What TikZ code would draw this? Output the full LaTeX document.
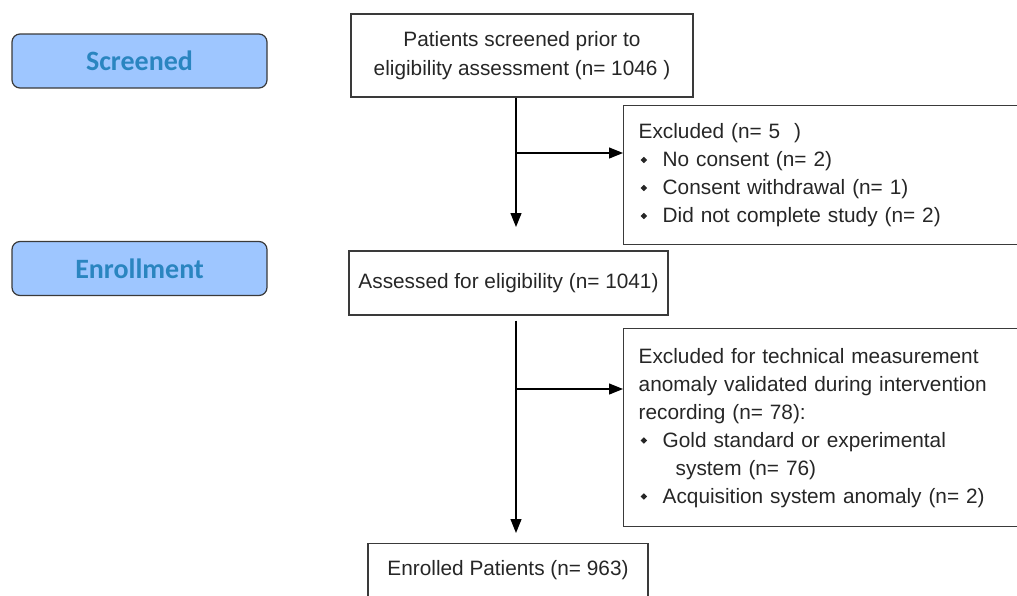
\documentclass[tikz,border=0pt]{standalone}
\usepackage{fontspec}
\setmainfont{Liberation Sans}
\newfontfamily\stagefont{Carlito}
\usetikzlibrary{arrows.meta,calc}
\definecolor{stagefill}{HTML}{9EC6FF}
\definecolor{stagetext}{HTML}{2A85C0}
\definecolor{boxline}{HTML}{3A3A3A}
\newcommand\dmd{\tikz[baseline=-0.6ex]\fill (0,1.6pt)--(1.6pt,0)--(0,-1.6pt)--(-1.6pt,0)--cycle;}
\newcommand\itm{\makebox[12pt][l]{\hspace*{1pt}\dmd}}

\begin{document}
\begin{tikzpicture}[x=0.5pt,y=-0.5pt,>={Triangle[length=7pt,width=5.5pt]},
    every node/.style={font=\fontsize{10.4}{14}\selectfont,text=black!85},
    stage/.style={draw=boxline,fill=stagefill,rounded corners=4pt,line width=0.6pt,
      minimum width=127.5pt,minimum height=27pt,text=stagetext,
      font=\stagefont\bfseries\fontsize{14}{16}\selectfont},
    box/.style={draw=boxline,line width=0.7pt,inner ysep=0pt},
    sidebox/.style={box,anchor=north west,inner xsep=7.5pt,text width=196pt,align=left},
    arr/.style={->,line width=0.6pt}]
            \useasboundingbox (0,0) rectangle (1017,595);
            \clip (0,0) rectangle (1017,595);
            % stage labels
            \node[stage] (screened) at (139.5,61) {Screened};
            \node[stage] (enrollment) at (139.5,268.5) {Enrollment};
            % main column
            \node[box,minimum width=171pt,minimum height=41.5pt,align=center,
              font=\fontsize{10.4}{14.5}\selectfont] (screen) at (522,55.5)
              {Patients screened prior to\\eligibility assessment (n=~1046~)};
            \node[box,minimum width=159.5pt,minimum height=32pt] (assess) at (508.5,283)
              {Assessed for eligibility (n=~1041)};
            \node[box,anchor=north,minimum width=140pt,minimum height=30pt,
              text height=8pt,text depth=6pt] (enrolled) at (508,543)
              {Enrolled Patients (n=~963)};
            % exclusions
            \node[sidebox,minimum height=69.5pt] (excl1) at (623,105)
              {Excluded (n=~5~~)\\
               \itm No consent (n=~2)\\
               \itm Consent withdrawal (n=~1)\\
               \itm Did not complete study (n=~2)};
            \node[sidebox,minimum height=99pt] (excl2) at (623,328)
              {Excluded for technical measurement\\
               anomaly validated during intervention\\
               recording (n=~78):\\
               \itm Gold standard or experimental\\
               \hspace*{18.5pt}system (n=~76)\\
               \itm Acquisition system anomaly (n=~2)};
            % connectors
            \coordinate (j1) at (516,153);
            \coordinate (a1) at (516,227);
            \draw[arr] (screen.south -| j1) -- (a1);
            \draw[arr] (j1) -- (j1 -| excl1.west);
            \coordinate (j2) at (516,389);
            \coordinate (a2) at (516,533);
            \draw[arr] ($(assess.south -| j2)+(0,5)$) -- (a2);
            \draw[arr] (j2) -- (j2 -| excl2.west);
        \end{tikzpicture}
\end{document}
